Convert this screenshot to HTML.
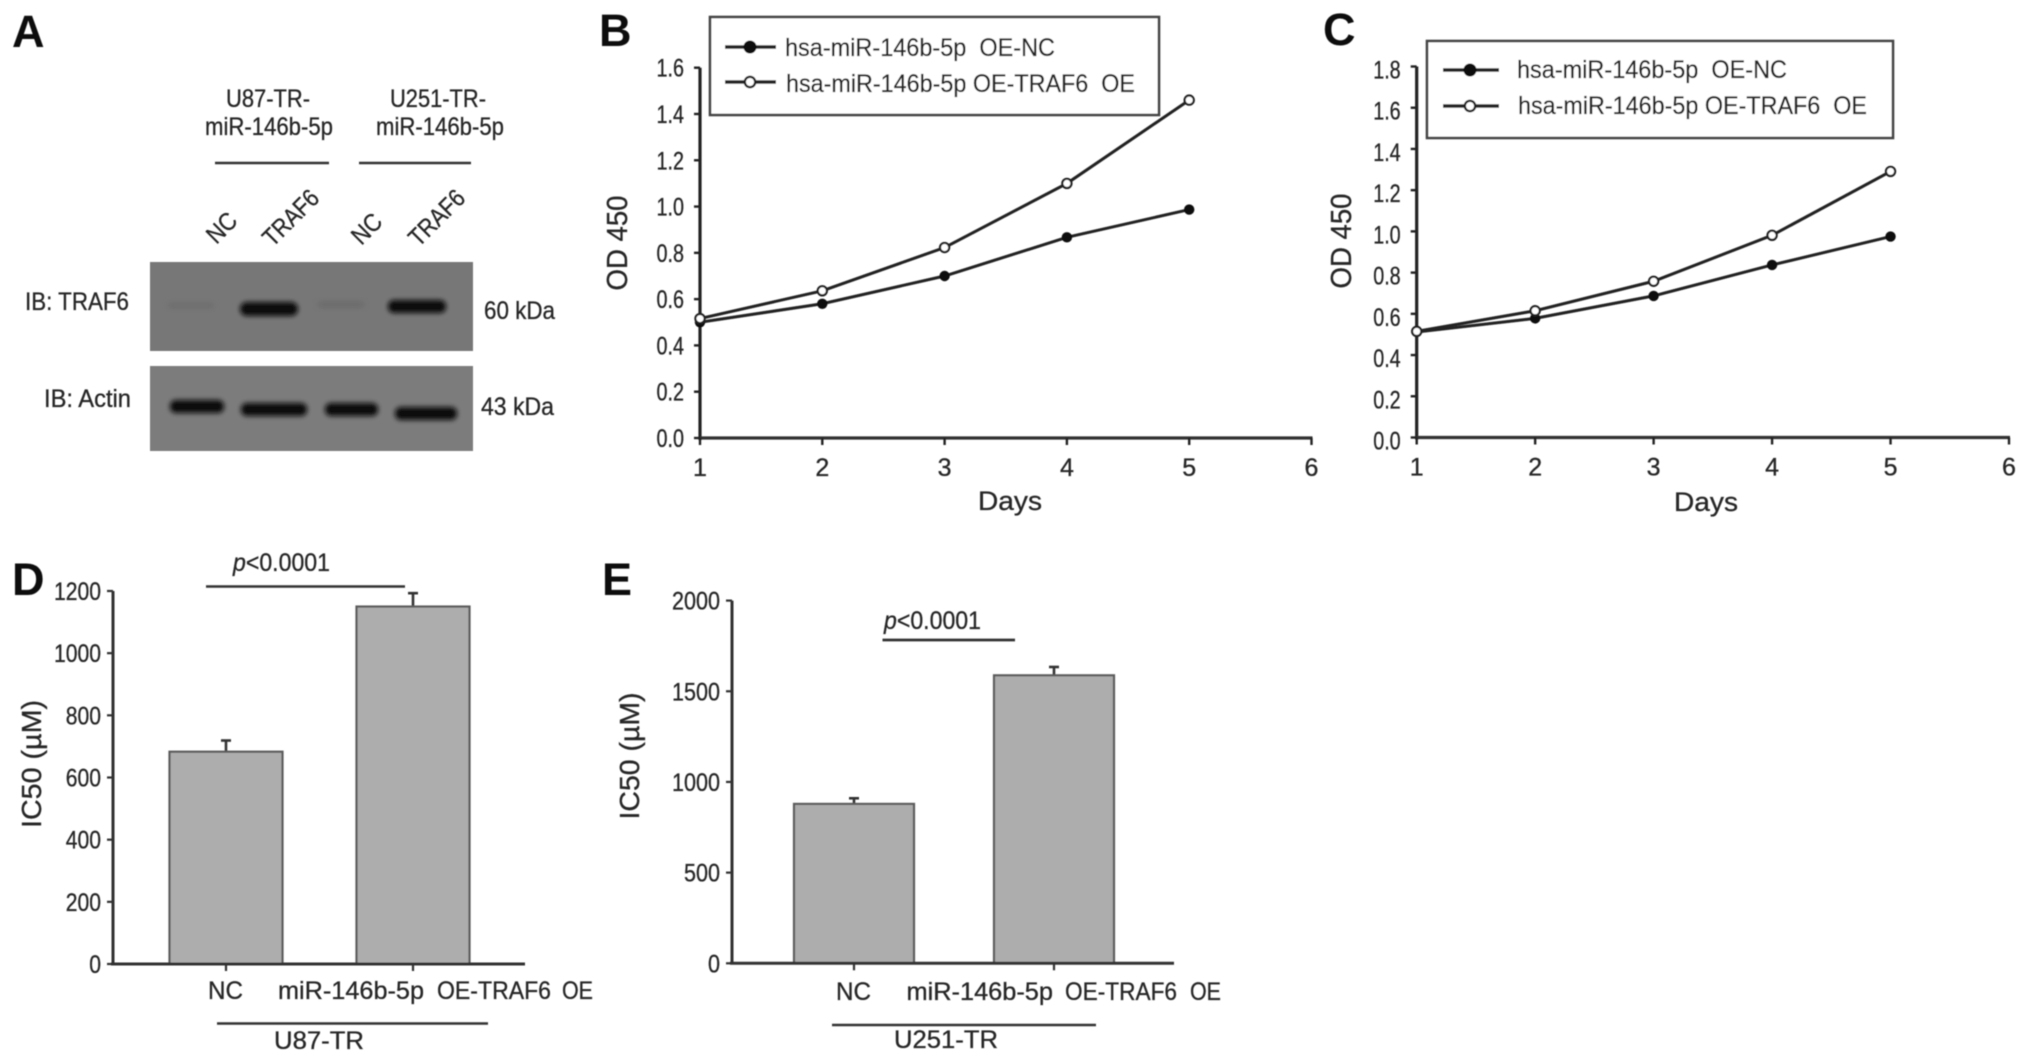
<!DOCTYPE html>
<html lang="en">
<head>
<meta charset="utf-8">
<title>TRAF6 figure panels A-E</title>
<style>
html,body{margin:0;padding:0;background:#fff;width:2031px;height:1063px;overflow:hidden}
svg{display:block}
text{font-family:"Liberation Sans",sans-serif;fill:#262626;font-size:25px;stroke:#262626;stroke-width:.3px}
.letter{font-weight:bold;font-size:45px;fill:#111;stroke:none}
.lg{font-size:25px}
</style>
</head>
<body>
<svg id="figure" width="2031" height="1063" viewBox="0 0 2031 1063" xmlns="http://www.w3.org/2000/svg">
<defs>
<filter id="soft" x="-2%" y="-2%" width="104%" height="104%"><feGaussianBlur stdDeviation="0.55"/></filter>
<filter id="band" x="-20%" y="-60%" width="140%" height="220%"><feGaussianBlur stdDeviation="2.5"/></filter>
<filter id="faint" x="-20%" y="-100%" width="140%" height="300%"><feGaussianBlur stdDeviation="3"/></filter>
</defs>
<g id="root" filter="url(#soft)">

<g>
<text class="letter" x="12" y="47">A</text>
<text x="268" y="107" text-anchor="middle" textLength="84" lengthAdjust="spacingAndGlyphs">U87-TR-</text>
<text x="205" y="135" textLength="128" lengthAdjust="spacingAndGlyphs">miR-146b-5p</text>
<text x="438" y="107" text-anchor="middle" textLength="96" lengthAdjust="spacingAndGlyphs">U251-TR-</text>
<text x="376" y="135" textLength="128" lengthAdjust="spacingAndGlyphs">miR-146b-5p</text>
<line x1="215" x2="329" y1="163" y2="163" stroke="#333" stroke-width="2.4"/>
<line x1="359" x2="471" y1="163" y2="163" stroke="#333" stroke-width="2.4"/>
<text transform="translate(223 229) rotate(-45)" text-anchor="middle" dominant-baseline="middle" textLength="32" lengthAdjust="spacingAndGlyphs">NC</text>
<text transform="translate(292 219) rotate(-45)" text-anchor="middle" dominant-baseline="middle" textLength="68" lengthAdjust="spacingAndGlyphs">TRAF6</text>
<text transform="translate(368 230) rotate(-45)" text-anchor="middle" dominant-baseline="middle" textLength="32" lengthAdjust="spacingAndGlyphs">NC</text>
<text transform="translate(438 219) rotate(-45)" text-anchor="middle" dominant-baseline="middle" textLength="68" lengthAdjust="spacingAndGlyphs">TRAF6</text>
<rect x="150" y="262" width="323" height="89" fill="#777"/>
<rect x="150" y="366" width="323" height="85" fill="#7b7b7b"/>
<g>
<rect x="168" y="303" width="46" height="5" fill="#6c6c6c" filter="url(#faint)"/>
<rect x="318" y="302" width="46" height="5" fill="#686868" filter="url(#faint)"/>
<rect x="240" y="302" width="58" height="14" rx="7" fill="#0c0c0c" filter="url(#band)"/>
<rect x="388" y="300" width="58" height="13" rx="6" fill="#0c0c0c" filter="url(#band)"/>
</g>
<g>
<rect x="170" y="400" width="54" height="13" rx="6" fill="#111" filter="url(#band)"/>
<rect x="241" y="403" width="66" height="13" rx="6" fill="#111" filter="url(#band)"/>
<rect x="325" y="403" width="53" height="13" rx="6" fill="#111" filter="url(#band)"/>
<rect x="395" y="407" width="62" height="13" rx="6" fill="#111" filter="url(#band)"/>
</g>
<text x="25" y="310" textLength="104" lengthAdjust="spacingAndGlyphs">IB: TRAF6</text>
<text x="44" y="407" textLength="87" lengthAdjust="spacingAndGlyphs">IB: Actin</text>
<text x="484" y="319" textLength="71" lengthAdjust="spacingAndGlyphs">60 kDa</text>
<text x="481" y="415" textLength="73" lengthAdjust="spacingAndGlyphs">43 kDa</text>
</g>

<g id="panel-b">
<text class="letter" x="599" y="46">B</text>
<text transform="translate(627 243) rotate(-90)" text-anchor="middle" style="font-size:29px" textLength="95" lengthAdjust="spacingAndGlyphs">OD 450</text>
<text x="1010" y="510" text-anchor="middle" style="font-size:27px" textLength="64" lengthAdjust="spacingAndGlyphs">Days</text>
<g>
<rect x="710" y="17" width="449" height="98" fill="#fff" stroke="#444" stroke-width="2.6"/>
<line x1="725" x2="776" y1="47" y2="47" stroke="#222" stroke-width="3.6"/>
<circle cx="750" cy="47" r="6.5" fill="#111"/>
<text class="lg" x="785" y="56" textLength="270" lengthAdjust="spacingAndGlyphs" xml:space="preserve">hsa-miR-146b-5p  OE-NC</text>
<line x1="725" x2="776" y1="82" y2="82" stroke="#222" stroke-width="3.6"/>
<circle cx="750" cy="82" r="5.2" fill="#fff" stroke="#222" stroke-width="2.4"/>
<text class="lg" x="786" y="92" textLength="349" lengthAdjust="spacingAndGlyphs" xml:space="preserve">hsa-miR-146b-5p OE-TRAF6  OE</text>
</g>
</g>

<g id="panel-c">
<text class="letter" x="1323" y="45">C</text>
<text transform="translate(1351 241) rotate(-90)" text-anchor="middle" style="font-size:29px" textLength="95" lengthAdjust="spacingAndGlyphs">OD 450</text>
<text x="1706" y="511" text-anchor="middle" style="font-size:27px" textLength="64" lengthAdjust="spacingAndGlyphs">Days</text>
<g>
<rect x="1427" y="41" width="466" height="97" fill="#fff" stroke="#444" stroke-width="2.6"/>
<line x1="1443" x2="1499" y1="70" y2="70" stroke="#222" stroke-width="3.6"/>
<circle cx="1470" cy="70" r="6.5" fill="#111"/>
<text class="lg" x="1517" y="78" textLength="270" lengthAdjust="spacingAndGlyphs" xml:space="preserve">hsa-miR-146b-5p  OE-NC</text>
<line x1="1443" x2="1499" y1="106" y2="106" stroke="#222" stroke-width="3.6"/>
<circle cx="1470" cy="106" r="5.2" fill="#fff" stroke="#222" stroke-width="2.4"/>
<text class="lg" x="1518" y="114" textLength="349" lengthAdjust="spacingAndGlyphs" xml:space="preserve">hsa-miR-146b-5p OE-TRAF6  OE</text>
</g>
</g>

<g id="panel-d">
<text class="letter" x="12" y="595">D</text>
<text transform="translate(41 764) rotate(-90)" text-anchor="middle" style="font-size:28px" textLength="128" lengthAdjust="spacingAndGlyphs">IC50 (µM)</text>
<text x="233" y="571" textLength="97" lengthAdjust="spacingAndGlyphs"><tspan font-style="italic">p</tspan>&lt;0.0001</text>
<line x1="206" x2="405" y1="586.5" y2="586.5" stroke="#333" stroke-width="2.4"/>
<text x="208" y="999" textLength="35" lengthAdjust="spacingAndGlyphs">NC</text>
<text x="278" y="999" textLength="146" lengthAdjust="spacingAndGlyphs">miR-146b-5p</text>
<text x="437" y="999" textLength="114" lengthAdjust="spacingAndGlyphs">OE-TRAF6</text>
<text x="562" y="999" textLength="31" lengthAdjust="spacingAndGlyphs">OE</text>
<line x1="217" x2="488" y1="1023.5" y2="1023.5" stroke="#333" stroke-width="2.4"/>
<text x="274" y="1049" textLength="90" lengthAdjust="spacingAndGlyphs">U87-TR</text>
</g>

<g id="panel-e">
<text class="letter" x="602" y="595">E</text>
<text transform="translate(639 756) rotate(-90)" text-anchor="middle" style="font-size:28px" textLength="127" lengthAdjust="spacingAndGlyphs">IC50 (µM)</text>
<text x="884" y="629" textLength="97" lengthAdjust="spacingAndGlyphs"><tspan font-style="italic">p</tspan>&lt;0.0001</text>
<line x1="882.5" x2="1015" y1="640" y2="640" stroke="#333" stroke-width="2.8"/>
<text x="836" y="1000" textLength="35" lengthAdjust="spacingAndGlyphs">NC</text>
<text x="906.5" y="1000" textLength="146.5" lengthAdjust="spacingAndGlyphs">miR-146b-5p</text>
<text x="1065" y="1000" textLength="112" lengthAdjust="spacingAndGlyphs">OE-TRAF6</text>
<text x="1190" y="1000" textLength="31" lengthAdjust="spacingAndGlyphs">OE</text>
<line x1="832" x2="1096" y1="1025" y2="1025" stroke="#333" stroke-width="2.4"/>
<text x="894" y="1048" textLength="104" lengthAdjust="spacingAndGlyphs">U251-TR</text>
</g>
</g>
</svg>

<script>
// Panel B data
const daysB = [1, 2, 3, 4, 5];
const xTickLabelsB = ['1', '2', '3', '4', '5', '6'];
const yTickLabelsB = ['0.0', '0.2', '0.4', '0.6', '0.8', '1.0', '1.2', '1.4', '1.6'];
const ncB = [0.50, 0.58, 0.70, 0.867, 0.987];
const traf6B = [0.516, 0.636, 0.823, 1.10, 1.46];

// Panel C data
const daysC = [1, 2, 3, 4, 5];
const xTickLabelsC = ['1', '2', '3', '4', '5', '6'];
const yTickLabelsC = ['0.0', '0.2', '0.4', '0.6', '0.8', '1.0', '1.2', '1.4', '1.6', '1.8'];
const ncC = [0.512, 0.578, 0.687, 0.837, 0.975];
const traf6C = [0.515, 0.615, 0.758, 0.981, 1.291];

// Panel D data
const yTickLabelsD = ['0', '200', '400', '600', '800', '1000', '1200'];
const categoriesD = ['NC', 'TRAF6 OE'];
const valuesD = [683, 1150];
const errorTopsD = [719, 1193];

// Panel E data
const yTickLabelsE = ['0', '500', '1000', '1500', '2000'];
const categoriesE = ['NC', 'TRAF6 OE'];
const valuesE = [879, 1588];
const errorTopsE = [910, 1634];

const SVGNS = 'http://www.w3.org/2000/svg';
function linear(d0, d1, r0, r1) {
  return function (v) { return r0 + (v - d0) * (r1 - r0) / (d1 - d0); };
}
function line(parent, x1, y1, x2, y2, color, width, name) {
  const el = document.createElementNS(SVGNS, 'line');
  el.setAttribute('x1', x1);
  el.setAttribute('y1', y1);
  el.setAttribute('x2', x2);
  el.setAttribute('y2', y2);
  el.setAttribute('stroke', color);
  el.setAttribute('stroke-width', width);
  
  
  parent.appendChild(el);
  return el;
}
function label(parent, x, y, str, anchor, width, name) {
  const el = document.createElementNS(SVGNS, 'text');
  el.setAttribute('x', x);
  el.setAttribute('y', y);
  el.setAttribute('text-anchor', anchor);
  if (width) {
    el.setAttribute('textLength', width);
    el.setAttribute('lengthAdjust', 'spacingAndGlyphs');
  }
  el.textContent = str;
  
  
  parent.appendChild(el);
  return el;
}
function lineChart(parent, id, days, xLabels, yLabels, yStep, nc, traf6, xS, yS, yTop, xRight, labelShift) {
  const axis = xS(1);
  const base = yS(0);
  line(parent, axis, yTop, axis, base + 2, '#222', 3.2, 'y-axis-' + id);
  line(parent, axis - 1, base, xRight + 1, base, '#333', 3.2, 'x-axis-' + id);
  yLabels.forEach(function (t, i) {
    const y = yS(i * yStep);
    line(parent, axis - 6, y, axis, y, '#222', 2.4, 'y-tick-' + id + '-' + t);
    label(parent, axis - 16, y + 9 + labelShift, t, 'end', 27.5, 'y-tick-label-' + id + '-' + t);
  });
  xLabels.forEach(function (t) {
    const x = xS(Number(t));
    line(parent, x, base, x, base + 7, '#222', 2.4, 'x-tick-' + id + '-' + t);
    label(parent, x, base + 38, t, 'middle', 0, 'x-tick-label-' + id + '-' + t);
  });
  [[nc, 'nc'], [traf6, 'traf6']].forEach(function (entry) {
    const values = entry[0];
    const key = entry[1];
    const pl = document.createElementNS(SVGNS, 'polyline');
    pl.setAttribute('points', days.map(function (d, i) { return xS(d) + ',' + yS(values[i]); }).join(' '));
    pl.setAttribute('fill', 'none');
    pl.setAttribute('stroke', '#222');
    pl.setAttribute('stroke-width', '3');
    
    
    parent.appendChild(pl);
  });
  [[nc, 'nc', '#111', 5.2, 0], [traf6, 'traf6', '#fff', 4.6, 2.2]].forEach(function (entry) {
    entry[0].forEach(function (v, i) {
      const c = document.createElementNS(SVGNS, 'circle');
      c.setAttribute('cx', xS(days[i]));
      c.setAttribute('cy', yS(v));
      c.setAttribute('r', entry[3]);
      c.setAttribute('fill', entry[2]);
      c.setAttribute('stroke', '#222');
      c.setAttribute('stroke-width', entry[4]);
      
      
      parent.appendChild(c);
    });
  });
}
function barChart(parent, id, yLabels, yStep, cats, values, errs, yS, axis, xLeft, xRight, centers, barW, digitW) {
  const base = yS(0);
  cats.forEach(function (cat, i) {
    const cx = centers[i];
    const top = yS(values[i]);
    const et = yS(errs[i]);
    line(parent, cx, top, cx, et, '#333', 2.6, 'error-bar-' + id + '-' + i);
    line(parent, cx - 5, et, cx + 5, et, '#333', 2.6, 'error-cap-' + id + '-' + i);
    const r = document.createElementNS(SVGNS, 'rect');
    r.setAttribute('x', cx - barW / 2);
    r.setAttribute('y', top);
    r.setAttribute('width', barW);
    r.setAttribute('height', base - top);
    r.setAttribute('fill', '#adadad');
    r.setAttribute('stroke', '#5c5c5c');
    r.setAttribute('stroke-width', '2.2');
    
    
    parent.appendChild(r);
    line(parent, cx, base, cx, base + 7, '#333', 2.2, 'x-tick-' + id + '-' + i);
  });
  line(parent, axis, yS(Number(yLabels[yLabels.length - 1])), axis, base, '#333', 3, 'y-axis-' + id);
  line(parent, xLeft, base, xRight, base, '#333', 3, 'x-axis-' + id);
  yLabels.forEach(function (t) {
    const y = yS(Number(t));
    line(parent, axis - 6, y, axis, y, '#333', 2.2, 'y-tick-' + id + '-' + t);
    label(parent, axis - 12, y + 9, t, 'end', t.length * digitW, 'y-tick-label-' + id + '-' + t);
  });
}

const xB = linear(1, 6, 700, 1311.5);
const yB = linear(0, 1.6, 438, 67.7);
lineChart(document.getElementById('panel-b'), 'b', daysB, xTickLabelsB, yTickLabelsB, 0.2, ncB, traf6B, xB, yB, 67.7, 1311.5, 0);

const xC = linear(1, 6, 1416.7, 2009);
const yC = linear(0, 1.8, 437.5, 66.5);
lineChart(document.getElementById('panel-c'), 'c', daysC, xTickLabelsC, yTickLabelsC, 0.2, ncC, traf6C, xC, yC, 66.5, 2009, 3);

const yD = linear(0, 1200, 964, 591);
barChart(document.getElementById('panel-d'), 'd', yTickLabelsD, 200, categoriesD, valuesD, errorTopsD, yD, 113, 111, 525, [226, 413], 113, 11.75);

const yE = linear(0, 2000, 963.3, 600.6);
barChart(document.getElementById('panel-e'), 'e', yTickLabelsE, 500, categoriesE, valuesE, errorTopsE, yE, 732, 730, 1174, [854, 1054], 120, 12);
</script>
</body>
</html>
